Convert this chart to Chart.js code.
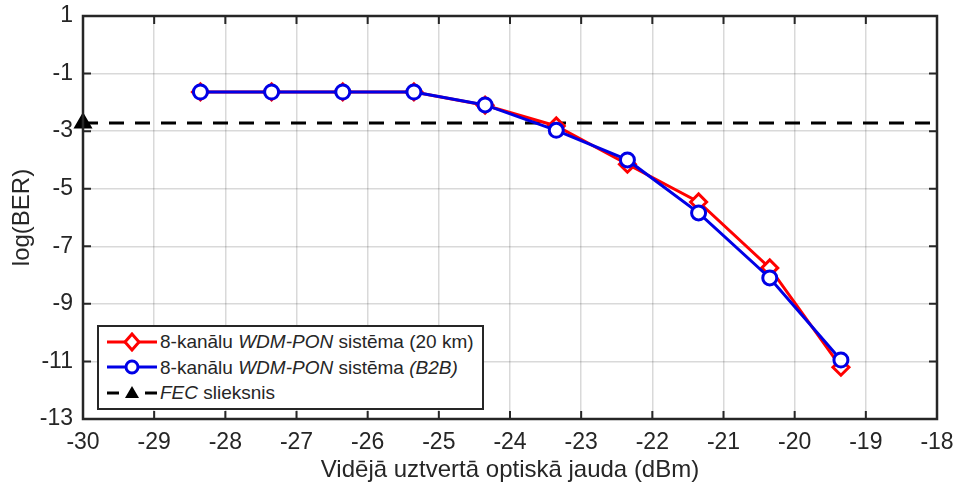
<!DOCTYPE html>
<html>
<head>
<meta charset="utf-8">
<script src="https://cdn.jsdelivr.net/npm/chart.js@4/dist/chart.umd.min.js"></script>
<style>
  html, body { margin: 0; padding: 0; background: #fff; }
  #wrap { position: relative; width: 956px; height: 490px; }
  #legend {
    position: absolute; left: 97px; top: 325px; width: 383px; height: 79px;
    border: 2px solid #262626; background: #fff;
    font-family: "Liberation Sans", Arial, sans-serif; font-size: 19px; color: #262626;
    padding-top: 2px;
  }
  #legend .row { height: 25.5px; line-height: 25.5px; display: flex; align-items: center; }
  #legend svg { margin-left: 8px; margin-right: 3px; flex: none; }
</style>
</head>
<body>
<div id="wrap">
  <canvas id="berChart" width="956" height="490"></canvas>
  <div id="legend"></div>
</div>
<script>
Chart.defaults.font.family = '"Liberation Sans", Arial, sans-serif';
Chart.defaults.color = '#262626';

// received power, dBm
const powerDbm = [-28.35, -27.35, -26.35, -25.35, -24.35, -23.35, -22.35, -21.35, -20.35, -19.35];
const ber20km = [-1.64, -1.64, -1.64, -1.64, -2.1, -2.82, -4.15, -5.46, -7.75, -11.2];
const berB2B = [-1.64, -1.64, -1.64, -1.64, -2.09, -2.97, -4.0, -5.84, -8.1, -10.95];
const fecX = [-30, -18];
const fecLevel = -2.72;
const xTicks = [-30, -29, -28, -27, -26, -25, -24, -23, -22, -21, -20, -19, -18];
const yTicks = [1, -1, -3, -5, -7, -9, -11, -13];

const seriesNames = [
  '8-kanālu <i>WDM-PON</i> sistēma (20 km)',
  '8-kanālu <i>WDM-PON</i> sistēma <i>(B2B)</i>',
  '<i>FEC</i> slieksnis'
];

const toPoints = (xs, ys) => xs.map((x, i) => ({ x: x, y: ys[i] }));

// MATLAB-like box with inward ticks
const boxFrame = {
  id: 'boxFrame',
  afterDatasetsDraw(chart) {
    const { ctx, chartArea: a, scales } = chart;
    const len = 8;
    ctx.save();
    ctx.strokeStyle = '#262626';
    ctx.lineWidth = 2.5;
    ctx.strokeRect(a.left, a.top, a.right - a.left, a.bottom - a.top);
    ctx.lineWidth = 2;
    ctx.beginPath();
    scales.x.ticks.forEach(t => {
      const px = scales.x.getPixelForValue(t.value);
      ctx.moveTo(px, a.bottom); ctx.lineTo(px, a.bottom - len);
      ctx.moveTo(px, a.top); ctx.lineTo(px, a.top + len);
    });
    scales.y.ticks.forEach(t => {
      const py = scales.y.getPixelForValue(t.value);
      ctx.moveTo(a.left, py); ctx.lineTo(a.left + len, py);
      ctx.moveTo(a.right, py); ctx.lineTo(a.right - len, py);
    });
    ctx.stroke();
    ctx.restore();
  }
};

const ctx = document.getElementById('berChart').getContext('2d');
const berChart = new Chart(ctx, {
  type: 'scatter',
  data: {
    datasets: [
      {
        label: 'FEC',
        data: toPoints(fecX, [fecLevel, fecLevel]),
        showLine: true,
        borderColor: '#000',
        borderWidth: 3,
        borderDash: [15, 11],
        pointStyle: 'triangle',
        pointRadius: [8, 0],
        pointBackgroundColor: '#000',
        pointBorderColor: '#000',
        clip: false,
        order: 3
      },
      {
        label: '20 km',
        data: toPoints(powerDbm, ber20km),
        showLine: true,
        borderColor: '#ff0000',
        borderWidth: 3,
        pointStyle: 'rectRot',
        pointRadius: 8,
        pointBorderWidth: 3,
        pointBackgroundColor: '#fff',
        pointBorderColor: '#ff0000',
        order: 2
      },
      {
        label: 'B2B',
        data: toPoints(powerDbm, berB2B),
        showLine: true,
        borderColor: '#0000e6',
        borderWidth: 3,
        pointStyle: 'circle',
        pointRadius: 7,
        pointBorderWidth: 3,
        pointBackgroundColor: '#fff',
        pointBorderColor: '#0000e6',
        order: 1
      }
    ]
  },
  options: {
    responsive: false,
    animation: false,
    layout: { padding: { top: 16, right: 19, left: 0, bottom: 0 } },
    scales: {
      x: {
        type: 'linear',
        min: -30,
        max: -18,
        afterBuildTicks: s => { s.ticks = xTicks.map(v => ({ value: v })); },
        afterFit: s => { s.height = 71; s.paddingLeft = 0; s.paddingRight = 0; },
        ticks: { font: { size: 23 }, padding: 10 },
        grid: { color: 'rgba(0,0,0,0.15)', lineWidth: 1.5, drawTicks: false },
        border: { display: false },
        title: { display: true, text: 'Vidējā uztvertā optiskā jauda (dBm)', font: { size: 24 }, padding: { top: 2, bottom: 5 } }
      },
      y: {
        min: -13,
        max: 1,
        afterBuildTicks: s => { s.ticks = yTicks.map(v => ({ value: v })); },
        afterFit: s => { s.width = 83; s.paddingTop = 0; s.paddingBottom = 0; },
        ticks: { font: { size: 23 }, padding: 10 },
        grid: { color: 'rgba(0,0,0,0.15)', lineWidth: 1.5, drawTicks: false },
        border: { display: false },
        title: { display: true, text: 'log(BER)', font: { size: 24 }, padding: { top: 8, bottom: 2 } }
      }
    },
    plugins: {
      legend: { display: false },
      tooltip: { enabled: false }
    }
  },
  plugins: [boxFrame]
});

// legend with MATLAB style line+marker symbols
const symbols = [
  '<svg width="50" height="20"><line x1="0" y1="10" x2="50" y2="10" stroke="#ff0000" stroke-width="3"/><polygon points="25,2 32,10 25,18 18,10" fill="#fff" stroke="#ff0000" stroke-width="3"/></svg>',
  '<svg width="50" height="20"><line x1="0" y1="10" x2="50" y2="10" stroke="#0000e6" stroke-width="3"/><circle cx="25" cy="10" r="6" fill="#fff" stroke="#0000e6" stroke-width="3"/></svg>',
  '<svg width="50" height="20"><line x1="0" y1="10" x2="12" y2="10" stroke="#000" stroke-width="3"/><line x1="38" y1="10" x2="50" y2="10" stroke="#000" stroke-width="3"/><polygon points="25,3 32,15 18,15" fill="#000"/></svg>'
];
document.getElementById('legend').innerHTML = seriesNames
  .map((name, i) => '<div class="row">' + symbols[i] + '<span>' + name + '</span></div>')
  .join('');
</script>
</body>
</html>
